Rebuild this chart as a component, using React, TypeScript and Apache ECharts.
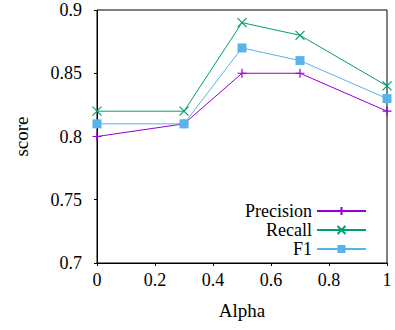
import React, { useEffect, useRef } from "react";
import * as echarts from "echarts";

const alphas = [0, 0.3, 0.5, 0.7, 1];
const precision = [0.8, 0.81, 0.85, 0.85, 0.82];
const recall = [0.82, 0.82, 0.89, 0.88, 0.84];
const f1 = [0.81, 0.81, 0.87, 0.86, 0.83];

const FONT = "Times New Roman, Liberation Serif, serif";
const PLUS = "path://M0,5L10,5M5,0L5,10";
const CROSS = "path://M0,0L10,10M10,0L0,10";

export default function App() {
  const ref = useRef<HTMLDivElement>(null);
  useEffect(() => {
    const chart = echarts.init(ref.current!, null, { renderer: "svg" });
    const mk = (name: string, data: number[], color: string, symbol: string, size: number, stroke: boolean) => ({
      name,
      type: "line",
      data: alphas.map((a, i) => [a, data[i]]),
      symbol,
      symbolSize: size,
      showAllSymbol: true,
      lineStyle: { color, width: 1 },
      itemStyle: stroke
        ? { color: "none", borderColor: color, borderWidth: 1.2 }
        : { color, borderWidth: 0 },
      emphasis: { disabled: true },
    });
    chart.setOption({
      animation: false,
      textStyle: { fontFamily: FONT },
      grid: {
        left: 97,
        right: 8,
        top: 10,
        bottom: 67,
        show: true,
        borderColor: "#000",
        borderWidth: 1,
      },
      xAxis: {
        type: "value",
        min: 0,
        max: 1,
        interval: 0.2,
        name: "Alpha",
        nameLocation: "middle",
        nameGap: 38,
        nameTextStyle: { fontFamily: FONT, fontSize: 19, color: "#000" },
        axisLine: { lineStyle: { color: "#000" } },
        axisTick: { show: true, inside: false, length: 3, lineStyle: { color: "#000" } },
        axisLabel: { fontFamily: FONT, fontSize: 18, color: "#000", margin: 8 },
        splitLine: { show: false },
      },
      yAxis: {
        type: "value",
        min: 0.7,
        max: 0.9,
        interval: 0.05,
        name: "score",
        nameLocation: "middle",
        nameGap: 66,
        nameRotate: 90,
        nameTextStyle: { fontFamily: FONT, fontSize: 19, color: "#000" },
        axisLine: { show: true, lineStyle: { color: "#000" } },
        axisTick: { show: true, inside: false, length: 3, lineStyle: { color: "#000" } },
        axisLabel: { fontFamily: FONT, fontSize: 18, color: "#000", margin: 15 },
        splitLine: { show: false },
      },
      legend: {
        orient: "vertical",
        right: 28,
        top: 202,
        padding: 0,
        align: "right",
        itemWidth: 49,
        itemHeight: 10,
        itemGap: 1,
        textStyle: { fontFamily: FONT, fontSize: 18, color: "#000", lineHeight: 18 },
        data: ["Precision", "Recall", "F1"],
      },
      series: [
        mk("Precision", precision, "#9400D3", PLUS, 9, true),
        mk("Recall", recall, "#009E73", CROSS, 9, true),
        mk("F1", f1, "#56B4E9", "rect", 9, false),
      ],
    });
    return () => chart.dispose();
  }, []);
  return <div ref={ref} style={{ width: 395, height: 330, position: "absolute", left: 0, top: 0, background: "#fff" }} />;
}
